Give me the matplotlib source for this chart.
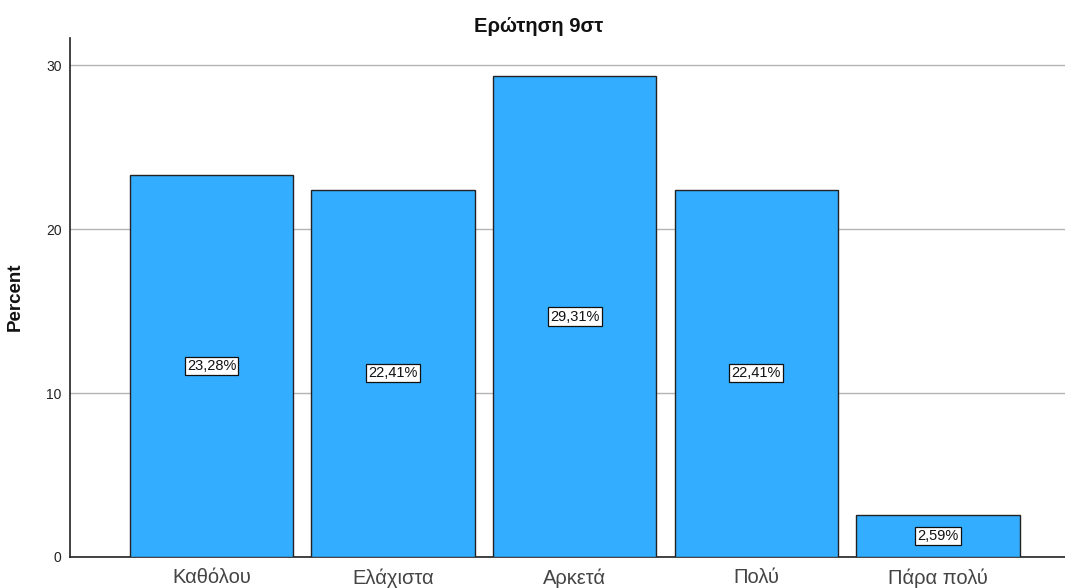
import matplotlib
matplotlib.use("Agg")
import matplotlib.pyplot as plt

plt.rcParams['font.family'] = ['Liberation Sans', 'DejaVu Sans']

categories = ["Καθόλου", "Ελάχιστα", "Αρκετά", "Πολύ", "Πάρα πολύ"]
percents = [23.28, 22.41, 29.31, 22.41, 2.59]
title = "Ερώτηση 9στ"
y_ticks = [0, 10, 20, 30]

fig = plt.figure(figsize=(10.65, 5.88), dpi=100)
ax = fig.add_axes([70 / 1065, 31 / 588, 1 - 70 / 1065, 519 / 588])

x = list(range(len(categories)))
ax.bar(x, percents, width=0.9, color="#33adff", edgecolor="#222222",
       linewidth=1.0, zorder=3)

# value boxes centred on each bar
for xi, v in zip(x, percents):
    ax.text(xi, v / 2, f"{v:.2f}%".replace(".", ","), ha="center", va="center",
            fontsize=10.5, color="#111111", zorder=4,
            bbox=dict(boxstyle="square,pad=0.15", facecolor="white",
                      edgecolor="#111111", linewidth=0.9))

ax.set_xlim(-0.78, 4.70)
ax.set_ylim(0, 31.65)
ax.set_yticks(y_ticks)
ax.set_yticklabels([str(t) for t in y_ticks], fontsize=10, color="#222222")
ax.set_xticks(x)
ax.set_xticklabels(categories, fontsize=14.5, color="#444444")
ax.tick_params(axis="x", length=0, pad=8)
ax.tick_params(axis="y", length=0, pad=6)

ax.yaxis.grid(True, color="#b4b4b4", linewidth=1.0, zorder=0)
ax.set_axisbelow(True)
for side in ("top", "right"):
    ax.spines[side].set_visible(False)
for side in ("left", "bottom"):
    ax.spines[side].set_color("#222222")
    ax.spines[side].set_linewidth(1.2)

fig.text(15 / 1065, 1 - 297 / 588, "Percent", rotation=90, ha="center",
         va="center", fontsize=13.5, fontweight="bold", color="#111111")
fig.text(539 / 1065, 1 - 32 / 588, title, ha="center", va="baseline",
         fontsize=14.5, fontweight="bold", color="#111111")

fig.savefig("out.png", dpi=100)
